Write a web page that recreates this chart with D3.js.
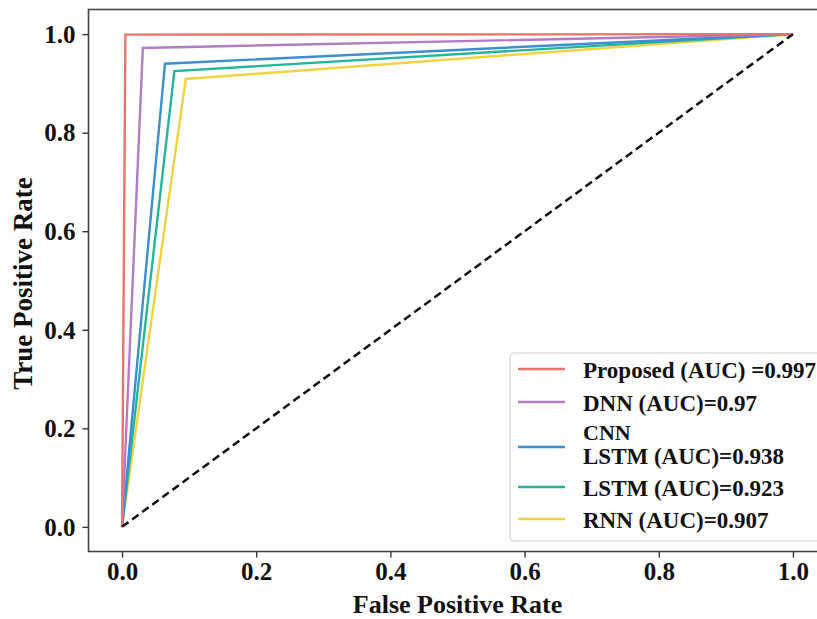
<!DOCTYPE html>
<html>
<head>
<meta charset="utf-8">
<script src="https://cdn.jsdelivr.net/npm/d3@7"></script>
<style>
  body { margin: 0; background: #fff; }
  svg { display: block; }
</style>
</head>
<body>
<div id="chart"></div>
<script>
// ROC curves, one operating point per model
const modelNames = ['Proposed', 'DNN', 'CNN LSTM', 'LSTM', 'RNN'];
const legendLabels = [
    ['Proposed (AUC) =0.997'],
    ['DNN (AUC)=0.97'],
    ['CNN', 'LSTM (AUC)=0.938'],
    ['LSTM (AUC)=0.923'],
    ['RNN (AUC)=0.907']
];
const fprValues = [
    [0, 0.005, 1],
    [0, 0.031, 1],
    [0, 0.064, 1],
    [0, 0.078, 1],
    [0, 0.095, 1]
];
const tprValues = [
    [0, 0.999, 1],
    [0, 0.972, 1],
    [0, 0.940, 1],
    [0, 0.925, 1],
    [0, 0.909, 1]
];
const chanceFpr = [0, 1];
const chanceTpr = [0, 1];
const tickValues = [0, 0.2, 0.4, 0.6, 0.8, 1.0];

const lineColors = ['#e5756a', '#b07cc6', '#3b8ed0', '#26b59b', '#f0d343'];

const width = 817, height = 619;
const margin = { top: 9.5, right: -9.5, bottom: 67.5, left: 88.5 };
const font = '"Liberation Serif", "Times New Roman", serif';

const svg = d3.select('#chart')
    .append('svg')
    .attr('width', width)
    .attr('height', height);

const x = d3.scaleLinear()
    .domain([-0.05, 1.05])
    .range([margin.left, width - margin.right]);

const y = d3.scaleLinear()
    .domain([-0.05, 1.05])
    .range([height - margin.bottom, margin.top]);

// Curves
const line = d3.line()
    .x(d => x(d[0]))
    .y(d => y(d[1]));

const plot = svg.append('g');

// draw from last to first so the proposed curve ends up on top
for (let i = modelNames.length - 1; i >= 0; i--) {
    const pts = fprValues[i].map((f, j) => [f, tprValues[i][j]]);
    plot.append('path')
        .datum(pts)
        .attr('fill', 'none')
        .attr('stroke', lineColors[i])
        .attr('stroke-width', 2.4)
        .attr('stroke-linejoin', 'miter')
        .attr('d', line);
}

// Chance line
plot.append('path')
    .datum(chanceFpr.map((f, j) => [f, chanceTpr[j]]))
    .attr('fill', 'none')
    .attr('stroke', '#111')
    .attr('stroke-width', 2.5)
    .attr('stroke-dasharray', '8,4.5')
    .attr('d', line);

// Axes
const xAxis = svg.append('g')
    .attr('transform', `translate(0,${height - margin.bottom})`)
    .call(d3.axisBottom(x).tickValues(tickValues).tickFormat(d3.format('.1f')).tickSizeOuter(0).tickSize(6));

const yAxis = svg.append('g')
    .attr('transform', `translate(${margin.left},0)`)
    .call(d3.axisLeft(y).tickValues(tickValues).tickFormat(d3.format('.1f')).tickSizeOuter(0).tickSize(6));

[xAxis, yAxis].forEach(a => {
    a.select('.domain').remove();
    a.selectAll('.tick line').attr('stroke', '#333').attr('stroke-width', 1.4);
    a.selectAll('.tick text')
        .attr('fill', '#111')
        .style('font-family', font)
        .style('font-weight', 'bold')
        .style('font-size', '25px');
});
xAxis.selectAll('.tick text').attr('y', 28.5).attr('dy', 0);
yAxis.selectAll('.tick text').attr('x', -13).attr('dy', '0.33em');

// Frame
svg.append('rect')
    .attr('x', margin.left)
    .attr('y', margin.top)
    .attr('width', width - margin.right - margin.left)
    .attr('height', height - margin.bottom - margin.top)
    .attr('fill', 'none')
    .attr('stroke', '#444')
    .attr('stroke-width', 1.6);

// Axis titles
svg.append('text')
    .attr('x', x(0.5))
    .attr('y', 613)
    .attr('text-anchor', 'middle')
    .style('font-family', font)
    .style('font-weight', 'bold')
    .style('font-size', '26px')
    .attr('fill', '#111')
    .text('False Positive Rate');

svg.append('text')
    .attr('transform', `translate(32,${y(0.5) + 3}) rotate(-90)`)
    .attr('text-anchor', 'middle')
    .style('font-family', font)
    .style('font-weight', 'bold')
    .style('font-size', '27px')
    .attr('fill', '#111')
    .text('True Positive Rate');

// Legend
const legend = svg.append('g');
legend.append('rect')
    .attr('x', 510)
    .attr('y', 353)
    .attr('width', 320)
    .attr('height', 188)
    .attr('rx', 4)
    .attr('fill', '#fff')
    .attr('fill-opacity', 0.85)
    .attr('stroke', '#d0d0d0')
    .attr('stroke-width', 1.2);

const rowY = [369, 402, 447, 487, 519];
legendLabels.forEach((lines, i) => {
    legend.append('line')
        .attr('x1', 518).attr('x2', 565)
        .attr('y1', rowY[i]).attr('y2', rowY[i])
        .attr('stroke', lineColors[i])
        .attr('stroke-width', 2.4);
    if (lines.length === 1) {
        legend.append('text')
            .attr('x', 583)
            .attr('y', rowY[i] + 8.5)
            .style('font-family', font)
            .style('font-weight', 'bold')
            .style('font-size', '23px')
            .attr('fill', '#111')
            .text(lines[0]);
    } else {
        // two-line label: separate text elements, tight spacing like the original
        lines.forEach((s, k) => {
            legend.append('text')
                .attr('x', 583)
                .attr('y', rowY[i] + (k === 0 ? -7 : 17))
                .style('font-family', font)
                .style('font-weight', 'bold')
                .style('font-size', k === 0 ? '22px' : '23px')
                .attr('fill', '#111')
                .text(s);
        });
    }
});
</script>
</body>
</html>
